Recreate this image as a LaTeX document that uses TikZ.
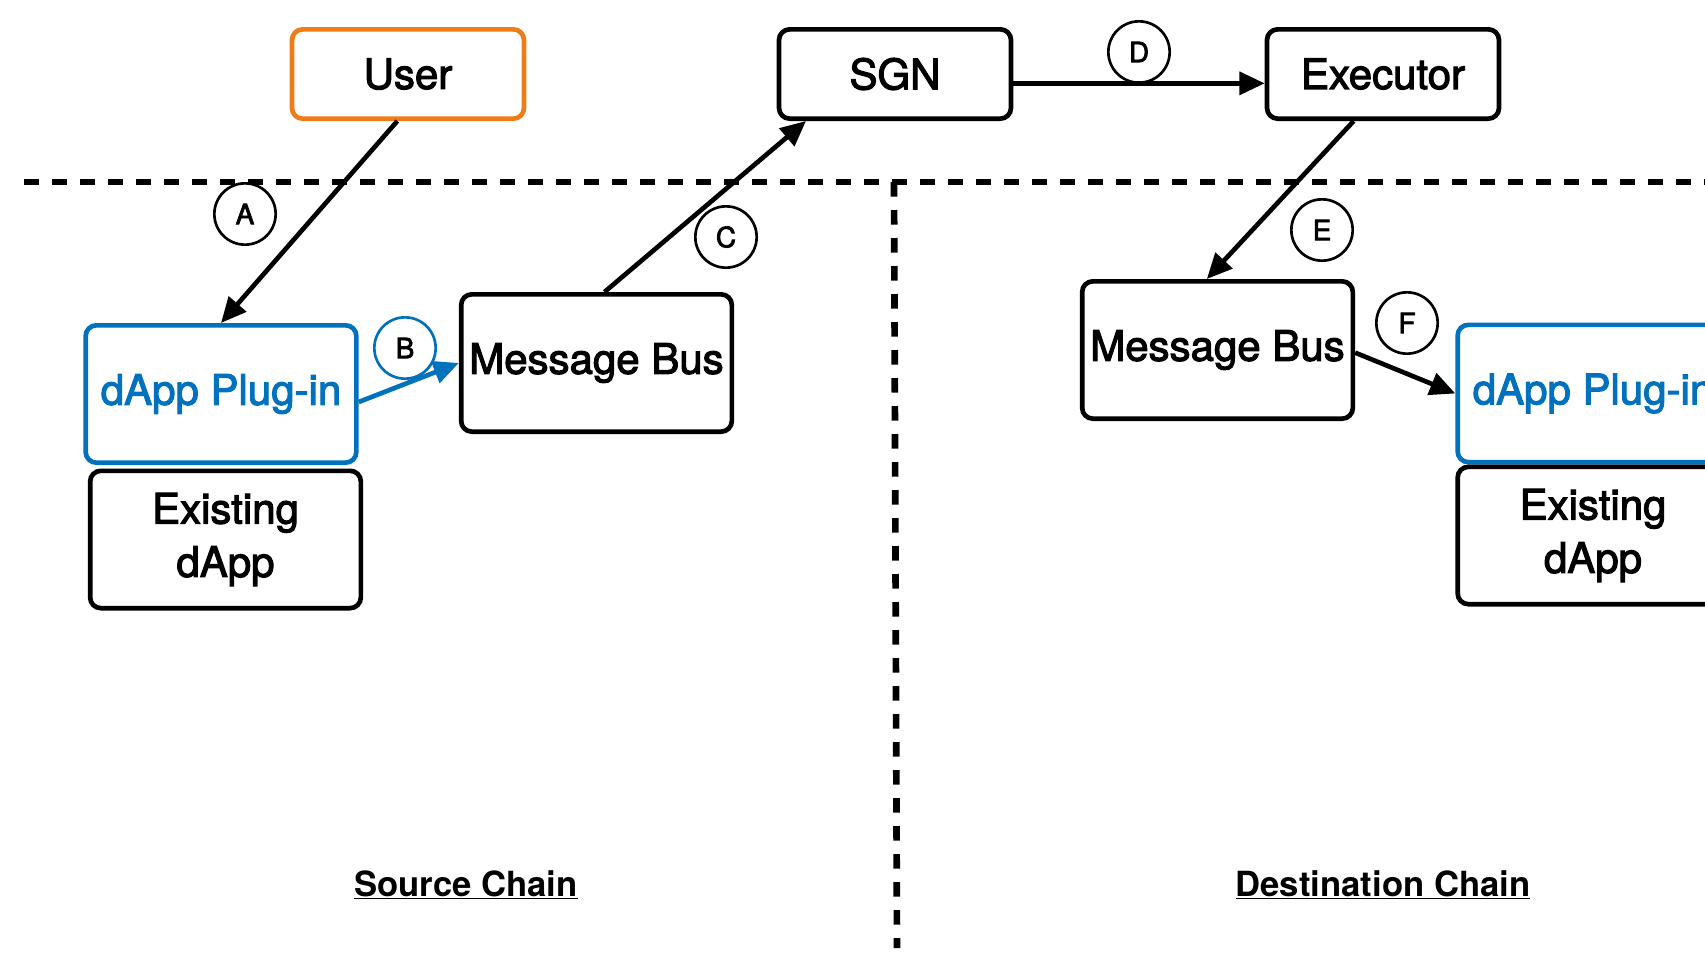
\documentclass[tikz,border=0pt]{standalone}
\usepackage{fontspec}
\setmainfont{TeX Gyre Heros}
\newfontfamily\boxfont{TeX Gyre Heros}[FakeBold=2.6]
\usepackage{tikz}
\usetikzlibrary{arrows.meta}
\definecolor{plugblue}{RGB}{0,114,189}
\definecolor{userorange}{RGB}{238,125,23}

\begin{document}
\begin{tikzpicture}[x=0.75pt,y=0.75pt,yscale=-1,xscale=1,
  box/.style={draw, line width=3.5pt, rounded corners=8pt, minimum width=203pt, minimum height=103pt, inner sep=0pt, align=center, font=\boxfont\fontsize{31.5}{40}\selectfont},
  topbox/.style={box, minimum width=174pt, minimum height=67pt},
  tag/.style={draw, circle, line width=2pt, minimum size=46pt, inner sep=0pt, font=\boxfont\fontsize{21}{21}\selectfont},
  flow/.style={line width=3.5pt, -{Triangle[length=19pt,width=17pt]}},
  sep/.style={line width=5pt, dash pattern=on 11pt off 10pt},
  chain/.style={font=\fontsize{26}{30}\selectfont\bfseries}
]
%set diagram size 1705 x 954
\clip (0,0) rectangle (1705,954);

%Dashed Lines
\coordinate (sepL) at (24,182);
\coordinate (sepR) at (1705,182);
\coordinate (sepT) at (894,182);
\coordinate (sepB) at (897,948);
\draw [sep] (sepL) -- (sepR);
\draw [sep] (sepT) -- (sepB);

%Shape: Rounded Rect (top row)
\draw (408,74) node [topbox, draw=userorange] (user) {User};
\draw (895,74) node [topbox] (sgn) {SGN};
\draw (1383,74) node [topbox] (exec) {Executor};

%Shape: Rounded Rect (source chain)
\draw (221,394) node [box, draw=plugblue, text=plugblue] (plugL) {dApp Plug-in};
\draw (225.5,539.5) node [box] (dappL) {Existing\\dApp};
\draw (596.5,363) node [box] (busL) {Message Bus};

%Shape: Rounded Rect (destination chain)
\draw (1217.5,350) node [box] (busR) {Message Bus};
\draw (1593,393.5) node [box, draw=plugblue, text=plugblue] (plugR) {dApp Plug-in};
\draw (1593,535.5) node [box] (dappR) {Existing\\dApp};

%Straight Lines (yshift is flipped by yscale=-1)
\draw [flow] ([xshift=-8pt]user.south) -- (plugL.north);
\draw [flow, plugblue] ([yshift=6pt]plugL.east) -- (busL.west);
\draw [flow] ([xshift=6pt]busL.north) -- ([xshift=22pt]sgn.south west);
\draw [flow] ([yshift=7pt]sgn.east) -- ([yshift=7pt]exec.west);
\draw [flow] ([xshift=-22pt]exec.south) -- ([xshift=-8pt]busR.north);
\draw [flow] ([yshift=2pt]busR.east) -- (plugR.west);

%Shape: Circle
\draw (245,214) node [tag] (tagA) {A};
\draw (405,348) node [tag, draw=plugblue] (tagB) {B};
\draw (726,237) node [tag] (tagC) {C};
\draw (1139,52) node [tag] (tagD) {D};
\draw (1322,230) node [tag] (tagE) {E};
\draw (1407,323) node [tag] (tagF) {F};

% Text Node
\draw (466,885) node [chain] (srcChain) {\underline{Source Chain}};
% Text Node
\draw (1383,885) node [chain] (dstChain) {\underline{Destination Chain}};

\end{tikzpicture}
\end{document}
